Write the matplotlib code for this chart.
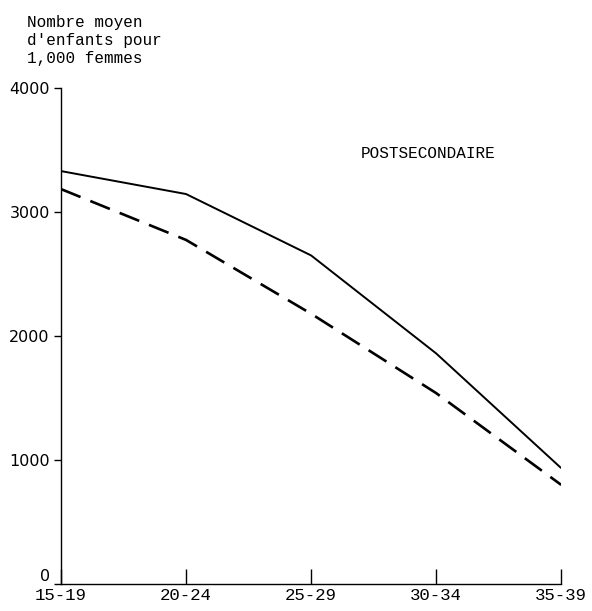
import matplotlib
matplotlib.use("Agg")
import matplotlib.pyplot as plt

# data
age_groups = ["15-19", "20-24", "25-29", "30-34", "35-39"]
solid_vals = [3330, 3145, 2650, 1860, 935]
dashed_vals = [3185, 2775, 2180, 1540, 800]
y_ticks = [0, 1000, 2000, 3000, 4000]

mono = "Liberation Mono"

fig = plt.figure(figsize=(5.92, 6.11), dpi=100)
ax = fig.add_axes([0.103, 0.044, 0.845, 0.812])

x = list(range(len(age_groups)))
ax.plot(x, solid_vals, color="black", lw=1.4, solid_capstyle="butt")
ax.plot(x, dashed_vals, color="black", lw=1.9, dashes=(8, 4))

ax.set_xlim(0, 4)
ax.set_ylim(0, 4000)
ax.set_xticks(x)
ax.set_xticklabels(age_groups, fontfamily=mono, fontsize=12.5)
ax.set_yticks(y_ticks)
ylabels = ax.set_yticklabels([str(v) for v in y_ticks], fontsize=11.5)
# the "0" sits just above the x axis so it clears "15-19"
ylabels[0].set_verticalalignment("bottom")

for s in ["top", "right"]:
    ax.spines[s].set_visible(False)
for s in ["left", "bottom"]:
    ax.spines[s].set_linewidth(1.0)

ax.tick_params(axis="x", direction="in", length=11, width=1.0, pad=3)
ax.tick_params(axis="y", direction="out", length=5, width=1.0, pad=3)

fig.text(0.046, 0.975, "Nombre moyen\nd'enfants pour\n1,000 femmes",
         fontfamily=mono, fontsize=11.5, va="top", ha="left", linespacing=1.25)
ax.text(2.4, 3470, "POSTSECONDAIRE", fontfamily=mono, fontsize=11.5,
        ha="left", va="center")

fig.savefig("out.png", dpi=100)
